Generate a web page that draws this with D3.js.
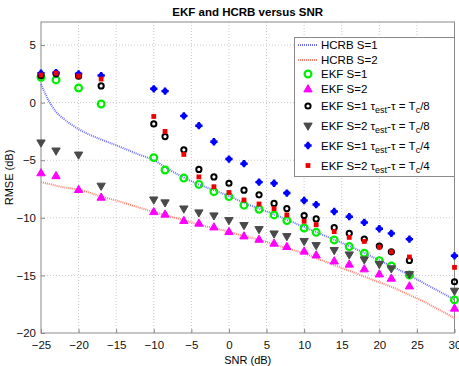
<!DOCTYPE html>
<html>
<head>
<meta charset="utf-8">
<script src="https://cdn.jsdelivr.net/npm/d3@7"></script>
<style>
  body { margin: 0; background: #fff; }
  svg { font-family: "Liberation Sans", Arial, sans-serif; display: block; }
  .grid line { stroke: #c8c8c8; stroke-dasharray: 1,2; }
</style>
</head>
<body>
<div id="chart"></div>
<script>
(function () {
  'use strict';

  // ── data ─────────────────────────────
  var snr = [-25, -23, -20, -17, -10, -8.5, -6, -4, -2, 0, 2, 4, 6, 7.7, 10, 11.6, 14, 16, 18, 20, 21.6, 24, 30];

  var ekfS1 = [2.2, 1.97, 1.27, -0.12, -4.78, -5.85, -6.55, -7.1, -7.73, -8.16, -8.9, -9.26, -9.75, -10.24, -10.88, -11.26, -11.92, -12.5, -13.08, -13.72, -14.18, -14.96, -17.13];
  var ekfS2 = [-6.1, -6.35, -7.55, -8.22, -9.47, -9.69, -10.24, -10.47, -10.8, -11.2, -11.58, -11.87, -12.21, -12.5, -12.9, -13.23, -13.75, -14.03, -14.44, -14.88, -15.25, -15.92, -17.85];
  var ekfS1Tc8 = [2.35, 2.5, 2.3, 1.45, -1.85, -2.95, -4.1, -5.8, -6.45, -7.0, -7.6, -8.0, -8.75, -9.2, -9.8, -10.1, -10.85, -11.35, -11.85, -12.45, -12.95, -13.7, -15.55];
  var ekfS2Tc8 = [-3.45, -4.15, -4.5, -7.2, -8.4, -8.65, -9.18, -9.52, -9.78, -10.19, -10.62, -10.97, -11.35, -11.58, -12.0, -12.36, -12.79, -13.17, -13.6, -14.0, -14.38, -14.88, -16.32];
  var ekfS1Tc4 = [2.55, 2.6, 2.5, 2.35, 1.2, 1.0, -1.15, -2.0, -3.4, -4.9, -5.3, -6.9, -7.0, -7.85, -8.5, -8.85, -9.45, -9.9, -10.4, -10.95, -11.35, -11.85, -13.3];
  var ekfS2Tc4 = [2.4, 2.55, 2.3, 2.05, -1.2, -2.5, -4.5, -6.45, -7.3, -7.8, -8.45, -8.8, -9.2, -9.75, -10.3, -10.6, -11.2, -11.7, -12.05, -12.55, -12.95, -13.4, -14.3];

  var crbSnr = [-25, -24, -23, -22, -20, -17, -15, -12, -10, -8, -6, -4, -2, 0, 2, 4, 6, 8, 10, 12, 14, 16, 18, 20, 22, 24, 26, 28, 30];
  var hcrbS1 = [1.6, 0.2, -0.8, -1.4, -2.3, -3.2, -3.7, -4.5, -5.0, -5.8, -6.5, -7.1, -7.6, -8.1, -8.7, -9.2, -9.7, -10.25, -10.8, -11.35, -11.9, -12.45, -13.05, -13.7, -14.3, -15.0, -15.7, -16.4, -17.1];
  var hcrbS2 = [-6.9, -7.05, -7.2, -7.35, -7.55, -8.15, -8.5, -9.1, -9.5, -9.85, -10.2, -10.6, -10.9, -11.2, -11.6, -11.9, -12.3, -12.7, -13.1, -13.6, -14.1, -14.6, -15.1, -15.6, -16.1, -16.7, -17.3, -18.0, -18.7];

  var xTicks = [-25, -20, -15, -10, -5, 0, 5, 10, 15, 20, 25, 30];
  var yTicks = [-20, -15, -10, -5, 0, 5];

  // ── layout ───────────────────────────
  var W = 459, H = 366;
  var left = 41, right = 454.5, top = 22, bottom = 333;

  var svg = d3.select('#chart').append('svg').attr('width', W).attr('height', H);

  var x = d3.scaleLinear().domain([-25, 30]).range([left, right]);
  var y = d3.scaleLinear().domain([-20, 7]).range([bottom, top]);

  // grid
  var grid = svg.append('g').attr('class', 'grid');
  grid.selectAll('.gx').data(xTicks.slice(1, -1)).enter().append('line')
    .attr('x1', function (d) { return x(d); }).attr('x2', function (d) { return x(d); })
    .attr('y1', top).attr('y2', bottom);
  grid.selectAll('.gy').data(yTicks.slice(1)).enter().append('line')
    .attr('x1', left).attr('x2', right)
    .attr('y1', function (d) { return y(d); }).attr('y2', function (d) { return y(d); });

  // box
  svg.append('rect').attr('x', left).attr('y', top)
    .attr('width', right - left).attr('height', bottom - top)
    .attr('fill', 'none').attr('stroke', '#8a8a8a').attr('stroke-width', 1);

  // axes
  var xAxis = svg.append('g').attr('transform', 'translate(0,' + bottom + ')')
    .call(d3.axisBottom(x).tickValues(xTicks).tickSize(-4).tickPadding(7).tickFormat(d3.format('d')));
  var yAxis = svg.append('g').attr('transform', 'translate(' + left + ',0)')
    .call(d3.axisLeft(y).tickValues(yTicks).tickSize(-4).tickPadding(5).tickFormat(d3.format('d')));
  [xAxis, yAxis].forEach(function (a) {
    a.select('.domain').remove();
    a.selectAll('.tick line').attr('stroke', '#8a8a8a');
    a.selectAll('.tick text').attr('font-size', '11.5px').attr('fill', '#111')
      .attr('font-family', '"Liberation Sans", Arial, sans-serif');
  });
  xAxis.selectAll('.tick text').attr('dy', '0.75em');

  // titles
  svg.append('text').attr('x', (left + right) / 2).attr('y', 16)
    .attr('text-anchor', 'middle').attr('font-size', '11.5px').attr('font-weight', 'bold')
    .text('EKF and HCRB versus SNR');
  svg.append('text').attr('x', (left + right) / 2).attr('y', 364)
    .attr('text-anchor', 'middle').attr('font-size', '11px')
    .text('SNR (dB)');
  svg.append('text').attr('transform', 'translate(13,' + ((top + bottom) / 2) + ') rotate(-90)')
    .attr('text-anchor', 'middle').attr('font-size', '11px')
    .text('RMSE (dB)');

  // ── series ───────────────────────────
  var line = d3.line()
    .x(function (d) { return x(d[0]); })
    .y(function (d) { return y(d[1]); })
    .curve(d3.curveMonotoneX);

  var plot = svg.append('g');

  function drawLine(vals, color) {
    plot.append('path')
      .datum(crbSnr.map(function (s, i) { return [s, vals[i]]; }))
      .attr('d', line)
      .attr('fill', 'none')
      .attr('stroke', color)
      .attr('stroke-width', 2)
      .attr('stroke-dasharray', '1,1');
  }
  drawLine(hcrbS1, '#7070ff');
  drawLine(hcrbS2, '#ff8070');

  var markers = [
    { vals: ekfS1, type: 'circle', color: '#00ee00' },
    { vals: ekfS2, type: 'tri', color: '#ff00ff' },
    { vals: ekfS1Tc8, type: 'ring', color: '#000' },
    { vals: ekfS2Tc8, type: 'tridown', color: '#4a4a4a' },
    { vals: ekfS1Tc4, type: 'star', color: '#0000ff' },
    { vals: ekfS2Tc4, type: 'square', color: '#ee0000' }
  ];

  function drawMarker(g, type, color) {
    if (type === 'circle') {
      g.append('circle').attr('r', 3.4).attr('fill', 'none').attr('stroke', color).attr('stroke-width', 2.2);
    } else if (type === 'ring') {
      g.append('circle').attr('r', 2.6).attr('fill', 'none').attr('stroke', color).attr('stroke-width', 2);
    } else if (type === 'tri') {
      g.append('path').attr('d', d3.symbol().type(d3.symbolTriangle).size(30)()).attr('fill', color)
        .attr('stroke', color).attr('stroke-width', 1).attr('transform', 'translate(0,0.5)');
    } else if (type === 'tridown') {
      g.append('path').attr('d', d3.symbol().type(d3.symbolTriangle).size(30)()).attr('fill', color)
        .attr('stroke', color).attr('stroke-width', 1).attr('transform', 'rotate(180)');
    } else if (type === 'star') {
      g.append('path').attr('d', d3.symbol().type(d3.symbolCross).size(30)()).attr('fill', color);
      g.append('path').attr('d', d3.symbol().type(d3.symbolCross).size(18)()).attr('fill', color)
        .attr('transform', 'rotate(45)');
    } else if (type === 'square') {
      g.append('rect').attr('x', -2.4).attr('y', -2.4).attr('width', 4.8).attr('height', 4.8).attr('fill', color);
    }
  }

  markers.forEach(function (m) {
    plot.append('g').selectAll('g')
      .data(snr.map(function (s, i) { return [s, m.vals[i]]; }))
      .enter().append('g')
      .attr('transform', function (d) { return 'translate(' + x(d[0]) + ',' + y(d[1]) + ')'; })
      .each(function () { drawMarker(d3.select(this), m.type, m.color); });
  });

  // ── legend ───────────────────────────
  var lg = svg.append('g');
  lg.append('rect').attr('x', 294.5).attr('y', 37.5).attr('width', 160).attr('height', 139)
    .attr('fill', '#fff').attr('stroke', '#8a8a8a');

  var rowY = [45, 60, 74, 89, 106, 125.5, 145.5, 165.5];
  var fs = '11.5px';

  function plainLabel(yy, txt) {
    lg.append('text').attr('x', 321).attr('y', yy).attr('dy', '0.35em').attr('font-size', fs).text(txt);
  }
  function tauLabel(yy, s, frac) {
    var t = lg.append('text').attr('x', 321).attr('y', yy).attr('dy', '0.35em').attr('font-size', fs);
    t.append('tspan').text('EKF S=' + s + ' \u03C4');
    t.append('tspan').attr('font-size', '9px').attr('dy', '3').text('est');
    t.append('tspan').attr('dy', '-3').text('-\u03C4 = T');
    t.append('tspan').attr('font-size', '9px').attr('dy', '3').text('c');
    t.append('tspan').attr('dy', '-3').text('/' + frac);
  }

  [['#7070ff', 'HCRB S=1'], ['#ff8070', 'HCRB S=2']].forEach(function (l, i) {
    lg.append('line').attr('x1', 298).attr('x2', 318).attr('y1', rowY[i]).attr('y2', rowY[i])
      .attr('stroke', l[0]).attr('stroke-width', 2).attr('stroke-dasharray', '1,1');
    plainLabel(rowY[i], l[1]);
  });

  markers.forEach(function (m, i) {
    var yy = rowY[i + 2];
    var g = lg.append('g').attr('transform', 'translate(308,' + yy + ')');
    drawMarker(g, m.type, m.color);
  });
  plainLabel(rowY[2], 'EKF S=1');
  plainLabel(rowY[3], 'EKF S=2');
  tauLabel(rowY[4], 1, 8);
  tauLabel(rowY[5], 2, 8);
  tauLabel(rowY[6], 1, 4);
  tauLabel(rowY[7], 2, 4);
})();
</script>
</body>
</html>
